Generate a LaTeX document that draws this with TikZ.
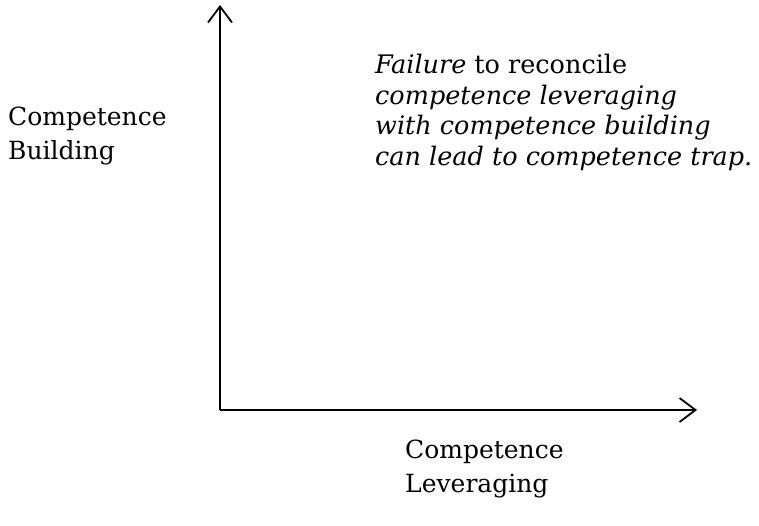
\documentclass[tikz,border=0pt]{standalone}
\usepackage{fontspec}
\setmainfont{DejaVu Serif}
\usetikzlibrary{arrows.meta}
\begin{document}
\begin{tikzpicture}[x=1pt,y=-1pt,
  axis/.style={line width=1.8pt,-{Straight Barb[length=16pt,width=24pt,line width=1.8pt]}},
  labelsty/.style={anchor=north west,align=left,inner sep=0pt,
    font=\fontsize{25}{34}\selectfont},
  notesty/.style={anchor=north west,align=left,inner sep=0pt,
    font=\fontsize{25.5}{30.5}\selectfont\itshape}]
  \useasboundingbox (0,0) rectangle (759,525);

  \coordinate (origin) at (220,410);
  \coordinate (ytop) at (220,5);
  \coordinate (xend) at (697,410);
  \draw[axis] (origin) -- (ytop);
  \draw[axis] (origin) -- (xend);

  \node[labelsty] (build) at (8,107) {Competence\\Building};
  \node[labelsty] (lever) at (405,440) {Competence\\Leveraging};
  \node[notesty] (note) at (375,54) {Failure {\upshape to reconcile}\\
    competence leveraging\\with competence building\\can lead to competence trap.};

\end{tikzpicture}
\end{document}
